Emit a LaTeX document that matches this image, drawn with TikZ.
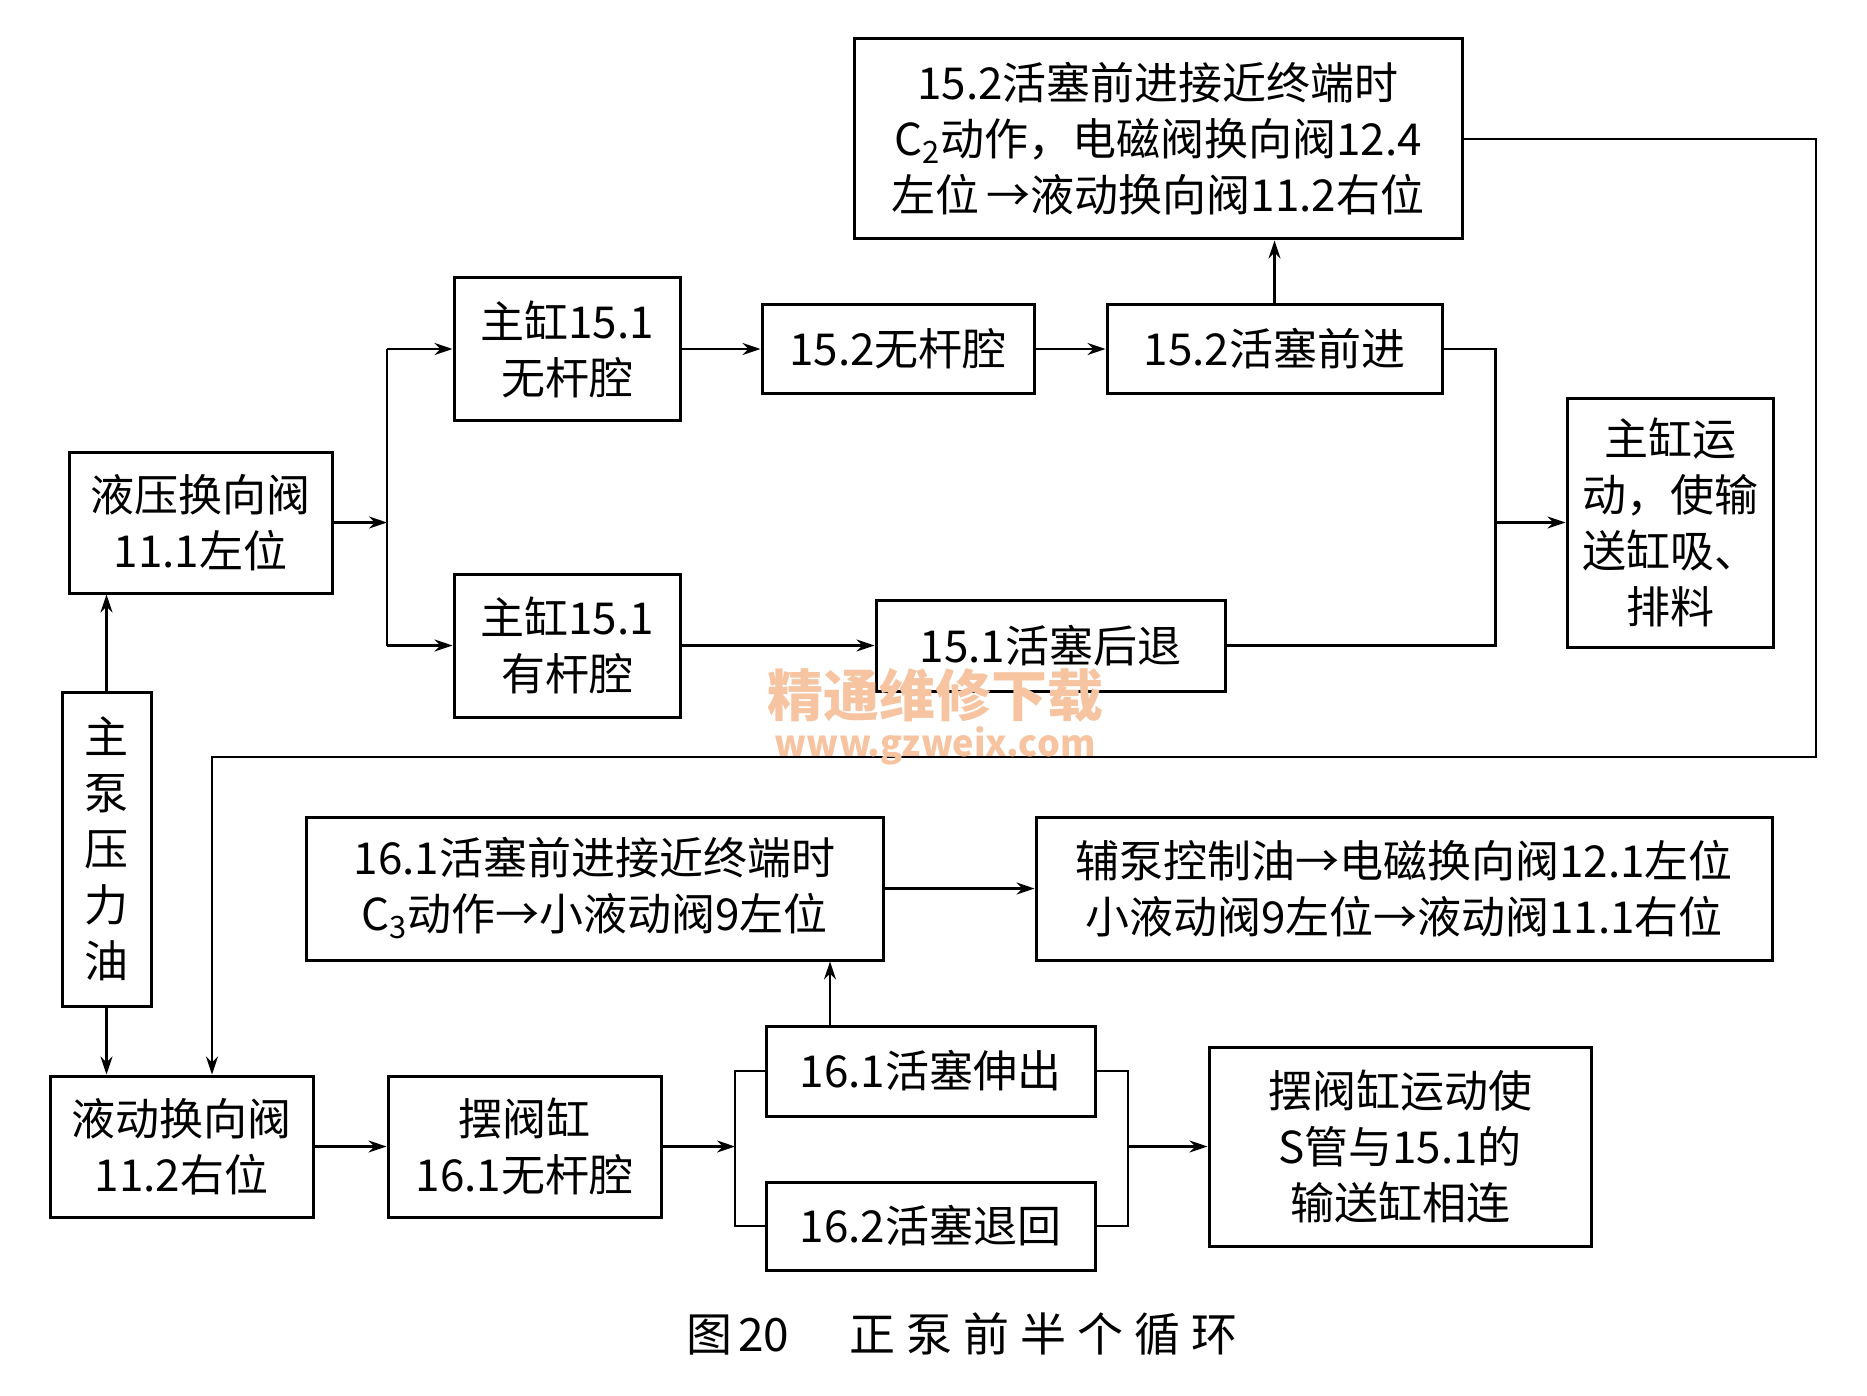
\documentclass[tikz,border=0pt]{standalone}
\usepackage{fontspec}
\setmainfont{Noto Sans CJK SC}
\usetikzlibrary{arrows.meta,positioning}
\definecolor{wmark}{RGB}{246,196,160}

\begin{document}
\begin{tikzpicture}[x=0.5pt, y=-0.5pt,
  every node/.style={font=\fontsize{22}{28}\selectfont},
  blk/.style={draw, line width=1.5pt, align=center, inner sep=0pt},
  flow/.style={line width=1.1pt, -{Stealth[length=9pt,width=6pt]}},
  link/.style={line width=1.1pt}]
\useasboundingbox (0,0) rectangle (1867,1396);

% upper half: main cylinders
\node[blk, minimum width=304pt, minimum height=100pt] (c2) at (1158,139)
  {15.2活塞前进接近终端时\\C\textsubscript{2}动作，电磁阀换向阀12.4\\左位\,→液动换向阀11.2右位};
\node[blk, minimum width=113pt, minimum height=71.5pt] (m1) at (567,349) {主缸15.1\\无杆腔};
\node[blk, minimum width=136pt, minimum height=44.5pt] (n2) at (898,349) {15.2无杆腔};
\node[blk, minimum width=167.5pt, minimum height=44.5pt] (p2) at (1274.5,349) {15.2活塞前进};
\node[blk, minimum width=131.5pt, minimum height=70.5pt] (v11) at (200.5,522.5) {液压换向阀\\11.1左位};
\node[blk, minimum width=103pt, minimum height=124.5pt] (mm) at (1670,522.5) {主缸运\\动，使输\\送缸吸、\\排料};
\node[blk, minimum width=113pt, minimum height=71.5pt] (m1r) at (567,645.5) {主缸15.1\\有杆腔};
\node[blk, minimum width=174.5pt, minimum height=45.5pt] (r1) at (1050.5,645.5) {15.1活塞后退};
\node[blk, minimum width=44.5pt, minimum height=157pt] (pump) at (106.5,849) {主\\泵\\压\\力\\油};

% lower half: swing cylinder
\node[blk, minimum width=288.5pt, minimum height=71.5pt] (c3) at (594.5,888.5)
  {16.1活塞前进接近终端时\\C\textsubscript{3}动作→小液动阀9左位};
\node[blk, minimum width=368pt, minimum height=71.5pt] (aux) at (1404,888.5)
  {辅泵控制油→电磁换向阀12.1左位\\小液动阀9左位→液动阀11.1右位};
\node[blk, minimum width=131.5pt, minimum height=70.5pt] (v112) at (181.5,1146.5) {液动换向阀\\11.2右位};
\node[blk, minimum width=136.5pt, minimum height=70.5pt] (swing) at (524.5,1146.5) {摆阀缸\\16.1无杆腔};
\node[blk, minimum width=164.5pt, minimum height=45pt] (ext) at (930.5,1071) {16.1活塞伸出};
\node[blk, minimum width=164.5pt, minimum height=44pt] (ret) at (930.5,1226) {16.2活塞退回};
\node[blk, minimum width=191pt, minimum height=99.5pt] (res) at (1400,1146.5) {摆阀缸运动使\\S管与15.1的\\输送缸相连};

\node[font=\fontsize{23}{28}\selectfont] (cap) at (962,1334)
  {图\hspace{3pt}20\hspace{30pt}正\hspace{5.5pt}泵\hspace{5.5pt}前\hspace{5.5pt}半\hspace{5.5pt}个\hspace{5.5pt}循\hspace{5.5pt}环};

% junctions
\coordinate (ja) at (387,522.5);
\coordinate (jb) at (1495.5,522.5);
\coordinate (fb1) at (1816,757);
\coordinate (fb2) at (212,757);
\coordinate (jc) at (735,1146.5);
\coordinate (jd) at (1128,1146.5);
\coordinate (ju) at (830,1026);

% connectors, upper half
\draw[flow] (pump.north) -- (pump.north |- v11.south);
\draw[flow] (v11.east) -- (ja);
\draw[link] (ja |- m1.west) -- (ja |- m1r.west);
\draw[flow] (ja |- m1.west) -- (m1.west);
\draw[flow] (ja |- m1r.west) -- (m1r.west);
\draw[flow] (m1) -- (n2);
\draw[flow] (n2) -- (p2);
\draw[flow] (m1r) -- (r1);
\draw[flow] (p2.north) -- (p2.north |- c2.south);
\draw[link] (p2.east) -| (jb);
\draw[link] (r1.east) -| (jb);
\draw[flow] (jb) -- (mm.west);
\draw[flow] (c2.east) -| (fb1) -- (fb2) -- (fb2 |- v112.north);

% connectors, lower half
\draw[flow] (pump.south) -- (pump.south |- v112.north);
\draw[flow] (v112) -- (swing);
\draw[flow] (swing.east) -- (jc);
\draw[link] (ext.west) -| (jc) |- (ret.west);
\draw[link] (ext.east) -| (jd) |- (ret.east);
\draw[flow] (jd) -- (res.west);
\draw[flow] (ju) -- (ju |- c3.south);
\draw[flow] (c3) -- (aux);

% watermark
\node[text=wmark, inner sep=0pt, font=\fontsize{28}{30}\selectfont\bfseries] (wm) at (935,695) {精通维修下载};
\node[text=wmark, inner sep=0pt, font=\fontsize{18}{20}\selectfont\bfseries] (wmurl) at (935,746) {www.gzweix.com};
\end{tikzpicture}
\end{document}
